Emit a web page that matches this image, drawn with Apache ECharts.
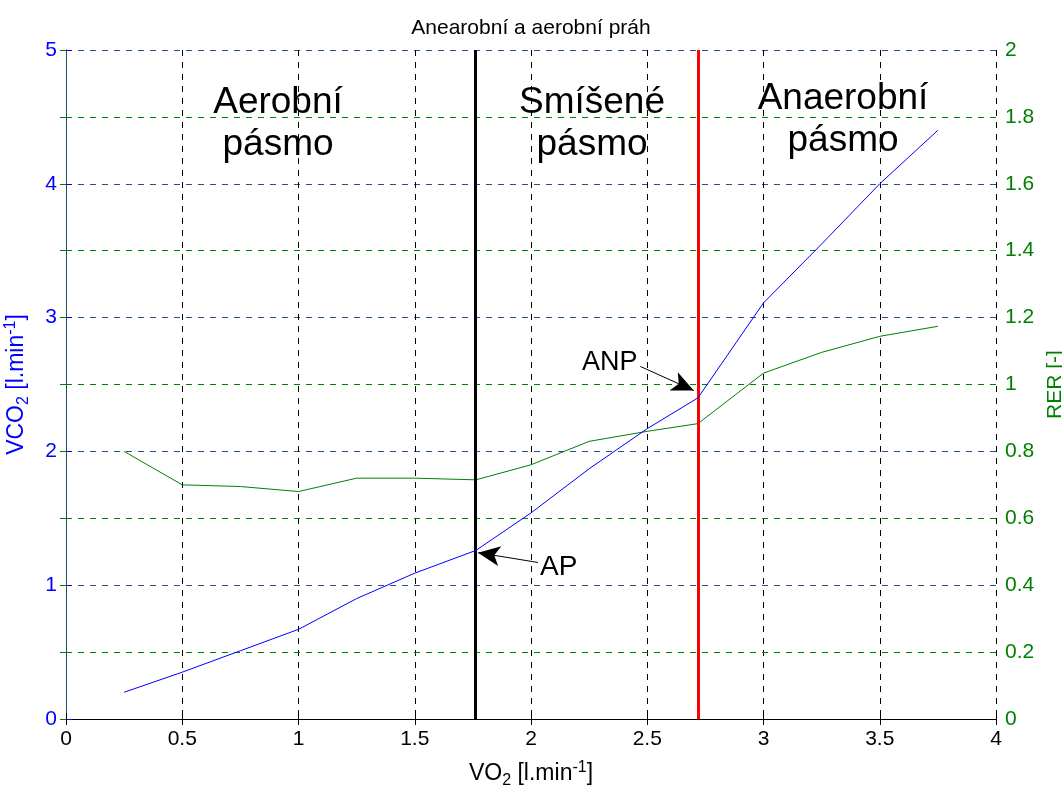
<!DOCTYPE html>
<html>
<head>
<meta charset="utf-8">
<script src="https://cdn.jsdelivr.net/npm/echarts@6/dist/echarts.min.js"></script>
<style>
  html, body { margin: 0; padding: 0; background: #fff; }
  #main { width: 1062px; height: 788px; }
</style>
</head>
<body>
<div id="main"></div>
<script>
// VO2 [l/min]
var vo2 = [0.25, 0.5, 0.75, 1.0, 1.25, 1.5, 1.763, 2.0, 2.25, 2.5, 2.718, 3.0, 3.25, 3.5, 3.75];
// VCO2 [l/min]
var vco2 = [0.2, 0.35, 0.51, 0.67, 0.9, 1.09, 1.26, 1.54, 1.87, 2.17, 2.4, 3.11, 3.55, 4.0, 4.4];
// RER [-]
var rer = [0.8, 0.70, 0.695, 0.68, 0.72, 0.72, 0.715, 0.76, 0.83, 0.86, 0.883, 1.034, 1.096, 1.144, 1.174];

var apX = 1.763;   // aerobni prah
var anpX = 2.718;  // anaerobni prah

// RER grid lines that do not fall on the VCO2 grid
var rerGrid = [0.2, 0.6, 1.0, 1.4, 1.8];

var font = 'Liberation Sans, Arial, sans-serif';

function pairs(xs, ys) {
  var out = [];
  for (var i = 0; i < xs.length; i++) out.push([xs[i], ys[i]]);
  return out;
}

var chart = echarts.init(document.getElementById('main'));

var arrowLine = { color: '#000', width: 1, type: 'solid' };

var option = {
  backgroundColor: '#ffffff',
  animation: false,
  textStyle: { fontFamily: font },
  title: {
    text: 'Anearobní a aerobní práh',
    left: 'center',
    top: 13,
    textStyle: { fontSize: 21, fontWeight: 'normal', color: '#000', fontFamily: font }
  },
  grid: { left: 66, right: 66, top: 50, bottom: 69, outerBoundsMode: 'none', containLabel: false },
  xAxis: [{
    type: 'value',
    min: 0, max: 4, interval: 0.5,
    name: '{a|VO}{s|2}{a| [l.min}{p|-1}{a|]}',
    nameLocation: 'middle',
    nameGap: 40,
    nameTextStyle: {
      rich: {
        a: { fontSize: 23, color: '#000', fontFamily: font },
        s: { fontSize: 16, color: '#000', fontFamily: font, padding: [14, 0, 0, 0] },
        p: { fontSize: 16, color: '#000', fontFamily: font, padding: [0, 0, 12, 0] }
      }
    },
    axisLine: { lineStyle: { color: '#000', width: 1 } },
    axisTick: { inside: true, length: 6, lineStyle: { color: '#000' } },
    axisLabel: { fontSize: 21, color: '#000', margin: 10 },
    splitLine: { show: true, lineStyle: { color: '#000', type: [6, 6], width: 1 } }
  }, {
    type: 'value',
    position: 'top',
    min: 0, max: 4, interval: 0.5,
    axisLine: { show: true, lineStyle: { color: '#000' } },
    axisTick: { inside: true, length: 6, lineStyle: { color: '#000' } },
    axisLabel: { show: false },
    splitLine: { show: false }
  }],
  yAxis: [{
    type: 'value',
    min: 0, max: 5, interval: 1,
    position: 'left',
    name: '{a|VCO}{s|2}{a| [l.min}{p|-1}{a|]}',
    nameLocation: 'middle',
    nameRotate: 90,
    nameGap: 34,
    nameTextStyle: {
      rich: {
        a: { fontSize: 23, color: '#0000ff', fontFamily: font },
        s: { fontSize: 16, color: '#0000ff', fontFamily: font, padding: [14, 0, 0, 0] },
        p: { fontSize: 16, color: '#0000ff', fontFamily: font, padding: [0, 0, 12, 0] }
      }
    },
    axisLine: { show: true, lineStyle: { color: '#0000ff', width: 1 } },
    axisTick: { show: true, inside: true, length: 6, lineStyle: { color: '#0000ff' } },
    axisLabel: { fontSize: 21, color: '#0000ff', margin: 9 },
    splitLine: { show: true, lineStyle: { color: '#2a4f8c', type: [6, 6], width: 1 } }
  }, {
    type: 'value',
    min: 0, max: 2, interval: 0.2,
    position: 'right',
    name: 'RER [-]',
    nameLocation: 'middle',
    nameRotate: 90,
    nameGap: 36,
    nameTextStyle: { fontSize: 21, color: '#008000', fontFamily: font },
    axisLine: { show: true, lineStyle: { color: '#1d5468', width: 1 } },
    axisTick: { show: true, inside: true, length: 6, lineStyle: { color: '#008000' } },
    axisLabel: { fontSize: 21, color: '#008000', margin: 9 },
    splitLine: { show: false }
  }],
  series: [{
    name: 'VCO2',
    type: 'line',
    xAxisIndex: 0,
    yAxisIndex: 0,
    data: pairs(vo2, vco2),
    showSymbol: false,
    lineStyle: { color: '#0000ff', width: 1 },
    z: 5,
    markLine: {
      silent: true,
      symbol: 'none',
      label: { show: false },
      data: [
        { xAxis: apX, lineStyle: { color: '#000', width: 3, type: 'solid' } },
        { xAxis: anpX, lineStyle: { color: '#ff0000', width: 3, type: 'solid' } },
        [
          { coord: [2.03, 1.17], symbol: 'none', lineStyle: arrowLine },
          { coord: [1.772, 1.243], symbol: 'arrow', symbolSize: [15, 22], itemStyle: { color: '#000' } }
        ],
        [
          { coord: [2.47, 2.635], symbol: 'none', lineStyle: arrowLine },
          { coord: [2.70, 2.455], symbol: 'arrow', symbolSize: [15, 22], itemStyle: { color: '#000' } }
        ]
      ]
    }
  }, {
    name: 'RER',
    type: 'line',
    xAxisIndex: 0,
    yAxisIndex: 1,
    data: pairs(vo2, rer),
    showSymbol: false,
    lineStyle: { color: '#008000', width: 1 },
    z: 4,
    markLine: {
      silent: true,
      symbol: 'none',
      label: { show: false },
      z: 1,
      lineStyle: { color: '#008000', type: [6, 6], width: 1 },
      data: rerGrid.map(function (v) { return { yAxis: v }; })
    }
  }],
  graphic: [
    { type: 'text', x: 278, y: 82, style: { text: 'Aerobní\npásmo', lineHeight: 42, fill: '#000', font: '37px ' + font, textAlign: 'center', verticalAlign: 'top' } },
    { type: 'text', x: 592, y: 82, style: { text: 'Smíšené\npásmo', lineHeight: 42, fill: '#000', font: '37px ' + font, textAlign: 'center', verticalAlign: 'top' } },
    { type: 'text', x: 843, y: 78, style: { text: 'Anaerobní\npásmo', lineHeight: 42, fill: '#000', font: '37px ' + font, textAlign: 'center', verticalAlign: 'top' } },
    { type: 'text', x: 540, y: 553, style: { text: 'AP', fill: '#000', font: '28px ' + font } },
    { type: 'text', x: 582, y: 349, style: { text: 'ANP', fill: '#000', font: '27px ' + font } }
  ]
};

chart.setOption(option);
</script>
</body>
</html>
